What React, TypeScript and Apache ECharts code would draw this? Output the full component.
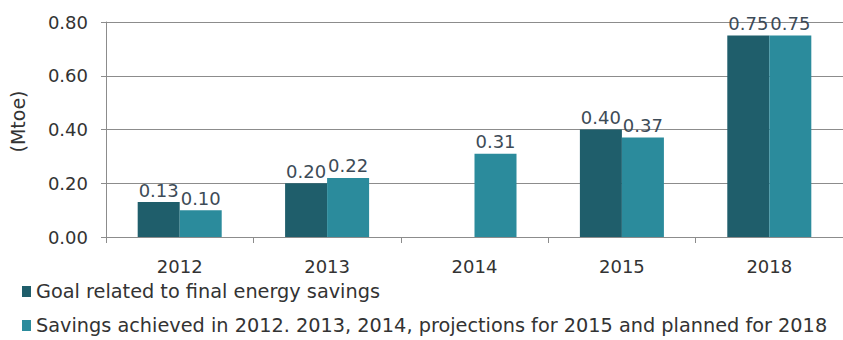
import React, { useEffect, useRef } from "react";
import * as echarts from "echarts";

const categories = ["2012", "2013", "2014", "2015", "2018"];
const goalValues: (number | null)[] = [0.13, 0.2, null, 0.4, 0.75];
const savingsValues: number[] = [0.1, 0.22, 0.31, 0.37, 0.75];
const seriesNames = [
  "Goal related to final energy savings",
  "Savings achieved in 2012. 2013, 2014, projections for 2015 and planned for 2018",
];
const yTicks = { min: 0, max: 0.8, interval: 0.2 };

const FONT = "'DejaVu Sans', sans-serif";

export default function App() {
  const ref = useRef<HTMLDivElement>(null);
  useEffect(() => {
    const chart = echarts.init(ref.current!, undefined, { renderer: "svg" });
    const label = {
      show: true,
      position: "top" as const,
      distance: 3,
      color: "#3d4b57",
      fontSize: 18,
      fontFamily: FONT,
      formatter: (p: any) => (p.value == null ? "" : Number(p.value).toFixed(2)),
    };
    const legendBase = {
      orient: "horizontal" as const,
      left: 22,
      padding: 0,
      itemWidth: 9,
      itemHeight: 11,
      itemGap: 0,
      icon: "rect",
      selectedMode: false,
      textStyle: { fontSize: 19.3, color: "#333", fontFamily: FONT, padding: [0, 0, 0, 0] },
    };
    chart.setOption({
      animation: false,
      textStyle: { fontFamily: FONT },
      grid: { left: 100, top: 22, right: -2, bottom: 103, containLabel: false },
      legend: [
        { ...legendBase, top: 282, data: [seriesNames[0]] },
        { ...legendBase, top: 316, data: [seriesNames[1]] },
      ],
      xAxis: {
        type: "category",
        data: categories,
        axisLine: { lineStyle: { color: "#8c8c8c" } },
        axisTick: { show: true, length: 6, lineStyle: { color: "#8c8c8c" } },
        axisLabel: { fontSize: 18, color: "#333", margin: 20, fontFamily: FONT },
      },
      yAxis: {
        type: "value",
        min: yTicks.min,
        max: yTicks.max,
        interval: yTicks.interval,
        name: "(Mtoe)",
        nameLocation: "middle",
        nameGap: 79,
        nameRotate: 90,
        nameTextStyle: { fontSize: 19, color: "#333", fontFamily: FONT, padding: [0, 0, 0, 16] },
        axisLine: { show: true, lineStyle: { color: "#8c8c8c" } },
        axisTick: { show: true, length: 5, lineStyle: { color: "#8c8c8c" } },
        axisLabel: {
          fontSize: 18,
          color: "#333",
          margin: 18,
          fontFamily: FONT,
          formatter: (v: number) => v.toFixed(2),
        },
        splitLine: { lineStyle: { color: "#8c8c8c" } },
      },
      series: [
        {
          name: seriesNames[0],
          type: "bar",
          data: goalValues,
          barGap: "0%",
          barCategoryGap: "43%",
          itemStyle: { color: "#1f5e6b" },
          label,
        },
        {
          name: seriesNames[1],
          type: "bar",
          data: savingsValues,
          barGap: "0%",
          barCategoryGap: "43%",
          itemStyle: { color: "#2b8b9c" },
          label,
        },
      ],
    });
    return () => chart.dispose();
  }, []);
  return (
    <div
      ref={ref}
      style={{ position: "fixed", left: 0, top: 0, width: 843, height: 340, background: "#fff" }}
    />
  );
}
